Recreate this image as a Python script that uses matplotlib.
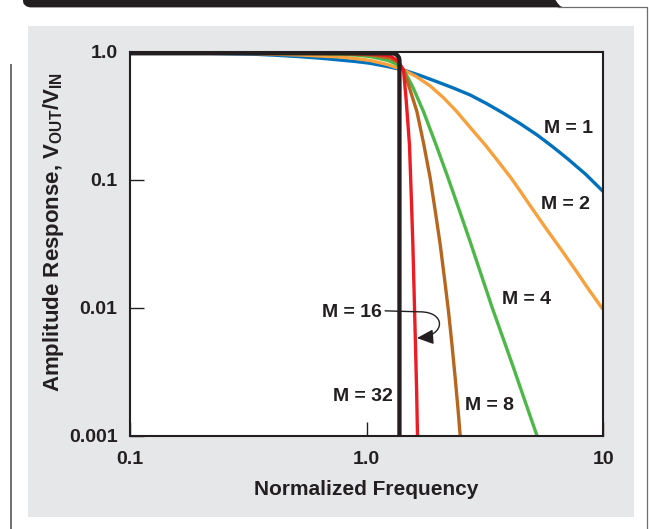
import matplotlib
matplotlib.use("Agg")
import matplotlib.pyplot as plt
from matplotlib.patches import Rectangle, Polygon, FancyArrowPatch, ArrowStyle
from matplotlib.path import Path
from matplotlib.lines import Line2D
from matplotlib.transforms import IdentityTransform

plt.rcParams['font.family'] = ['Liberation Sans', 'DejaVu Sans']
plt.rcParams['font.weight'] = 'bold'
plt.rcParams['mathtext.fontset'] = 'custom'
plt.rcParams['mathtext.rm'] = 'Liberation Sans:bold'
plt.rcParams['mathtext.bf'] = 'Liberation Sans:bold'
plt.rcParams['mathtext.it'] = 'Liberation Sans:bold'

# ---------------- data ----------------
m1_freq = [0.1, 0.1794, 0.3216, 0.410, 0.5234, 0.6358, 0.7725, 0.894, 1.035, 1.209, 1.431,
           1.684, 1.981, 2.321, 2.739, 3.223, 3.788, 4.457, 5.245, 6.086, 7.03, 8.391, 10.0]
m1_amp = [0.986, 0.977, 0.959, 0.939, 0.914, 0.890, 0.861, 0.839, 0.812, 0.769, 0.720,
          0.652, 0.583, 0.521, 0.459, 0.392, 0.330, 0.274, 0.224, 0.182, 0.147, 0.111, 0.0807]

m2_freq = [0.1, 0.1977, 0.3216, 0.5234, 0.7725, 0.894, 1.035, 1.221, 1.431, 1.620, 1.856,
           2.106, 2.390, 2.739, 3.170, 3.597, 4.083, 4.436, 4.818, 5.259, 5.781, 6.643,
           7.612, 8.640, 9.874, 10.0]
m2_amp = [0.989, 0.980, 0.968, 0.942, 0.909, 0.885, 0.854, 0.795, 0.720, 0.640, 0.540,
          0.439, 0.3444, 0.2560, 0.187, 0.139, 0.1027, 0.0825, 0.0659, 0.0522, 0.0406, 0.0284,
          0.0198, 0.01404, 0.00993, 0.0097]

m4_freq = [0.1, 0.5234, 0.7725, 0.894, 1.035, 1.233, 1.332, 1.431, 1.498, 1.573, 1.739,
           1.958, 2.211, 2.461, 2.739, 3.049, 3.394, 3.778, 4.204, 4.693, 5.245]
m4_amp = [0.991, 0.977, 0.959, 0.942, 0.917, 0.854, 0.802, 0.720, 0.621, 0.521, 0.340,
          0.1904, 0.1027, 0.0581, 0.0327, 0.01806, 0.00998, 0.00572, 0.00327, 0.00181, 0.001]

m8_freq = [0.1, 0.7725, 1.035, 1.257, 1.346, 1.431, 1.527, 1.631, 1.742, 1.856, 1.949,
           2.046, 2.131, 2.218, 2.294, 2.367, 2.428, 2.485]
m8_amp = [0.993, 0.968, 0.942, 0.893, 0.831, 0.720, 0.502, 0.340, 0.1904, 0.1027, 0.0571,
          0.031, 0.0171, 0.00934, 0.00513, 0.00282, 0.00168, 0.001]

m16_freq = [0.1, 0.7725, 1.035, 1.257, 1.359, 1.431, 1.469, 1.517, 1.543, 1.568, 1.588,
            1.608, 1.626, 1.640]
m16_amp = [0.995, 0.977, 0.959, 0.926, 0.846, 0.720, 0.420, 0.187, 0.0761, 0.031, 0.0126,
           0.00513, 0.002286, 0.001]

m32_freq = [0.1, 1.0, 1.286, 1.320, 1.349, 1.369, 1.376, 1.376]
m32_amp = [0.972, 0.972, 0.972, 0.962, 0.936, 0.899, 0.857, 0.0009]

series = [
    ("M = 1", m1_freq, m1_amp, "#0071bc", 2.4),
    ("M = 2", m2_freq, m2_amp, "#f7a03c", 2.4),
    ("M = 4", m4_freq, m4_amp, "#4db848", 2.4),
    ("M = 8", m8_freq, m8_amp, "#b7661f", 2.4),
    ("M = 16", m16_freq, m16_amp, "#ed1c24", 2.4),
    ("M = 32", m32_freq, m32_amp, "#231f20", 3.1),
]

x_ticks = [0.1, 1.0, 10.0]
x_ticklabels = ["0.1", "1.0", "10"]
y_ticks = [0.001, 0.01, 0.1, 1.0]
y_ticklabels = ["0.001", "0.01", "0.1", "1.0"]

INK = "#231f20"
W, H = 649, 529

fig = plt.figure(figsize=(W / 100, H / 100), dpi=100, facecolor="white")

# gray panel
fig.add_artist(Rectangle((28, H - 517), 606, 491, transform=IdentityTransform(),
                         facecolor="#e6e7e8", edgecolor="none", zorder=-2))
# top black banner
banner_px = [(23, -4), (23, 1), (23.5, 3.5), (25, 5.3), (27, 6.6), (30, 7.4),
             (563, 7.4), (560, 5.8), (557.5, 3), (555.5, 0), (555, -4)]
fig.add_artist(Polygon([(x, H - y) for x, y in banner_px], closed=True,
                       transform=IdentityTransform(), facecolor=INK,
                       edgecolor="none", zorder=-1))
# thin frame lines
fig.add_artist(Line2D([558, 647.3, 647.3], [H - 7.0, H - 7.0, -2], transform=IdentityTransform(),
                      color="#6d6e71", lw=0.9, zorder=-1))
fig.add_artist(Line2D([11, 11], [H - 65, -2], transform=IdentityTransform(),
                      color="#6d6e71", lw=1.4, zorder=-1))

ax = fig.add_axes([130 / W, (H - 435.7) / H, 473.3 / W, 384 / H])
ax.set_facecolor("white")
ax.set_xscale("log")
ax.set_yscale("log")
ax.set_xlim(0.1, 10)
ax.set_ylim(0.001, 1.0)

for name, fx, fy, col, lw in series:
    ax.plot(fx, fy, color=col, lw=lw, solid_capstyle="butt", solid_joinstyle="round")

ax.set_xticks(x_ticks)
ax.set_xticklabels(x_ticklabels)
ax.set_yticks(y_ticks)
ax.set_yticklabels(y_ticklabels)
ax.minorticks_off()
for s in ax.spines.values():
    s.set_linewidth(1.5)
    s.set_color(INK)
ax.tick_params(axis="both", direction="in", length=10, width=1.0, color=INK,
               labelsize=14, labelcolor=INK)
ax.tick_params(axis="x", pad=11)
ax.tick_params(axis="y", pad=9)

ax.set_xlabel("Normalized Frequency", fontsize=15, fontweight="bold", color=INK,
              va="center", ha="center")
ax.xaxis.set_label_coords(0.5, -0.1414)
ax.set_ylabel(r"Amplitude Response, V$_{\mathbf{OUT}}$/V$_{\mathbf{IN}}$", fontsize=16,
              fontweight="bold", color=INK, va="center", ha="center")
ax.yaxis.set_label_coords(-0.1606, 0.5305)

# curve labels
lab = dict(fontsize=14, fontweight="bold", color=INK, va="center_baseline")
ax.text(7.11, 0.2584, "M = 1", ha="center", **lab)
ax.text(6.91, 0.0659, "M = 2", ha="center", **lab)
ax.text(4.73, 0.01195, "M = 4", ha="center", **lab)
ax.text(3.303, 0.00178, "M = 8", ha="center", **lab)
ax.text(1.163, 0.00951, "M = 16", ha="right", **lab)
ax.text(1.291, 0.00209, "M = 32", ha="right", **lab)

# curved arrow from "M = 16" to the red curve
S = ax.transData.transform((1.197, 0.00945))
T = ax.transData.transform((1.631, 0.00579))
verts = [tuple(S), (S[0] + 35, S[1] - 1), (S[0] + 61, S[1] - 1),
         (T[0] + 29.3, T[1] + 2.3), tuple(T)]
codes = [Path.MOVETO, Path.LINETO, Path.CURVE4, Path.CURVE4, Path.CURVE4]
arrow = FancyArrowPatch(path=Path(verts, codes),
                        arrowstyle=ArrowStyle("-|>", head_length=1.0, head_width=0.45),
                        mutation_scale=10, lw=1.0, color=INK,
                        transform=IdentityTransform(), zorder=5)
fig.add_artist(arrow)

fig.savefig("out.png", dpi=100, facecolor="white")
